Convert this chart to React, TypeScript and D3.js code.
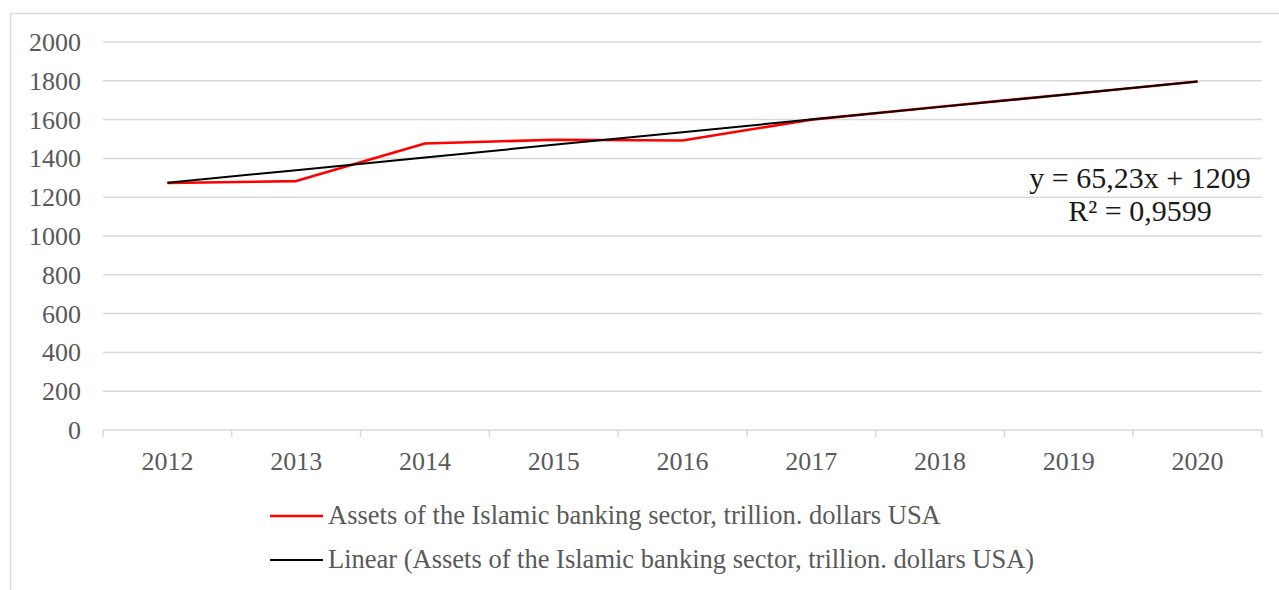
import React, { useEffect, useRef } from 'react';
import * as d3 from 'd3';

const years = ['2012', '2013', '2014', '2015', '2016', '2017', '2018', '2019', '2020'];
const assets = [1273, 1283, 1477, 1496, 1492, 1600, 1666, 1731, 1796];
const yTicks = [0, 200, 400, 600, 800, 1000, 1200, 1400, 1600, 1800, 2000];
const trendSlope = 65.23;
const trendIntercept = 1209;
const seriesName = 'Assets of the Islamic banking sector, trillion. dollars USA';
const trendName = 'Linear (Assets of the Islamic banking sector, trillion. dollars USA)';
const eqLines = ['y = 65,23x + 1209', 'R² = 0,9599'];

const W = 1279;
const H = 590;
const PLOT = { left: 103, right: 1262, top: 42, bottom: 430 };
const FONT = '"Liberation Serif", "Times New Roman", serif';

const App: React.FC = () => {
  const svgRef = useRef<SVGSVGElement>(null);

  useEffect(() => {
    const svg = d3.select(svgRef.current);
    svg.selectAll('*').remove();

    // outer frame
    svg.append('rect')
      .attr('x', 10.5).attr('y', 13.5)
      .attr('width', W + 20).attr('height', H + 20)
      .attr('fill', 'white')
      .attr('stroke', '#d9d9d9').attr('stroke-width', 1.5);

    const x = d3.scaleBand().domain(years).range([PLOT.left, PLOT.right]);
    const y = d3.scaleLinear().domain([0, 2000]).range([PLOT.bottom, PLOT.top]);
    const cx = (d: string) => x(d)! + x.bandwidth() / 2;

    // gridlines
    svg.append('g').selectAll('line')
      .data(yTicks.filter(t => t > 0))
      .enter().append('line')
      .attr('x1', PLOT.left).attr('x2', PLOT.right)
      .attr('y1', d => y(d)).attr('y2', d => y(d))
      .attr('stroke', '#d9d9d9').attr('stroke-width', 1.5);

    // y labels
    svg.append('g').selectAll('text')
      .data(yTicks)
      .enter().append('text')
      .attr('x', 81).attr('y', d => y(d) + 9)
      .attr('text-anchor', 'end')
      .attr('font-family', FONT).attr('font-size', 26)
      .attr('fill', '#595959')
      .text(d => d);

    // x axis
    const xAxis = svg.append('g').attr('transform', `translate(0,${PLOT.bottom})`);
    xAxis.append('line')
      .attr('x1', PLOT.left).attr('x2', PLOT.right)
      .attr('stroke', '#d9d9d9').attr('stroke-width', 1.5);
    const bounds = years.map(d => x(d)!).concat([PLOT.right]);
    xAxis.selectAll('line.tick')
      .data(bounds)
      .enter().append('line')
      .attr('class', 'tick')
      .attr('x1', d => d).attr('x2', d => d)
      .attr('y1', 0).attr('y2', 7)
      .attr('stroke', '#d9d9d9').attr('stroke-width', 1.5);
    xAxis.selectAll('text')
      .data(years)
      .enter().append('text')
      .attr('x', d => cx(d)).attr('y', 40)
      .attr('text-anchor', 'middle')
      .attr('font-family', FONT).attr('font-size', 26)
      .attr('fill', '#595959')
      .text(d => d);

    // equation label
    svg.append('g').selectAll('text')
      .data(eqLines)
      .enter().append('text')
      .attr('x', 1140).attr('y', (d, i) => 188 + i * 33)
      .attr('text-anchor', 'middle')
      .attr('font-family', FONT).attr('font-size', 30)
      .attr('fill', '#1a1a1a')
      .text(d => d);

    // data line
    const line = d3.line<number>()
      .x((d, i) => cx(years[i]))
      .y(d => y(d));

    svg.append('path')
      .datum(assets)
      .attr('d', line)
      .attr('fill', 'none')
      .attr('stroke', '#ff0000').attr('stroke-width', 2.6)
      .attr('stroke-linejoin', 'round');

    // linear trend
    const trend = years.map((_, i) => trendIntercept + trendSlope * (i + 1));
    svg.append('path')
      .datum(trend)
      .attr('d', line)
      .attr('fill', 'none')
      .attr('stroke', '#000').attr('stroke-width', 2);

    // legend
    const legend = svg.append('g');
    [
      { name: seriesName, color: '#ff0000', w: 2.6 },
      { name: trendName, color: '#000', w: 2 },
    ].forEach((s, i) => {
      const ly = 516 + i * 44;
      legend.append('line')
        .attr('x1', 270).attr('x2', 323)
        .attr('y1', ly).attr('y2', ly)
        .attr('stroke', s.color).attr('stroke-width', s.w);
      legend.append('text')
        .attr('x', 328).attr('y', ly + 8)
        .attr('font-family', FONT).attr('font-size', 26.5)
        .attr('fill', '#595959')
        .text(s.name);
    });
  }, []);

  return (
    <svg
      ref={svgRef}
      width={W}
      height={H}
      style={{ position: 'absolute', left: 0, top: 0, background: 'white' }}
    />
  );
};

export default App;
